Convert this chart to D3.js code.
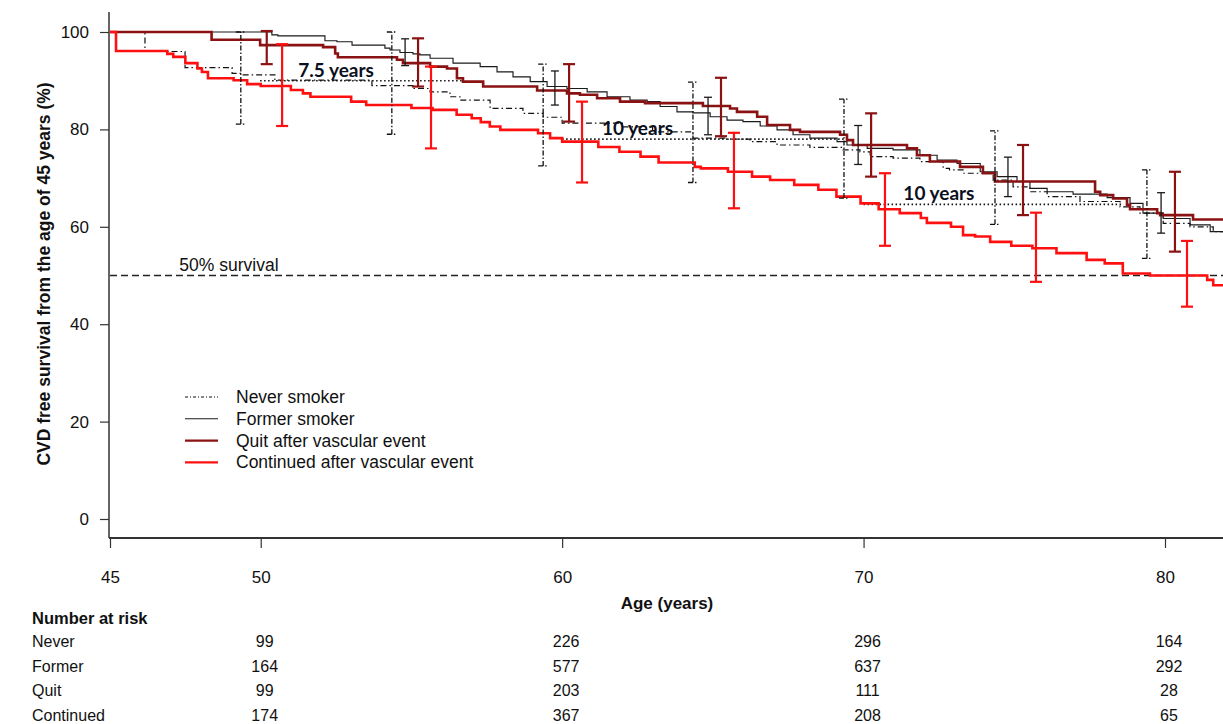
<!DOCTYPE html>
<html>
<head>
<meta charset="utf-8">
<script src="https://cdn.jsdelivr.net/npm/d3@7"></script>
<style>
  body { margin: 0; background: #fff; }
  text { font-family: "Liberation Sans", Arial, sans-serif; fill: #111; }
</style>
</head>
<body>
<div id="chart"></div>
<script>
// ---- data (age in years, CVD free survival in %) ----
var neverAge  = [45, 46.16, 47.49, 49.05, 49.38, 50.47, 53.69, 55.05, 55.62, 56.28, 56.61, 57.61, 58.7, 59.37, 60.0, 62.0, 63.0, 64.34, 65.47, 66.23, 67.13, 68.22, 69.32, 69.88, 70.22, 70.98, 71.87, 72.64, 72.85, 73.3, 74.3, 74.96, 75.52, 76.09, 77.18, 78.51, 79.17, 79.94, 80.83, 81.6, 82];
var neverSurv = [100, 96.0, 92.7, 91.5, 91.2, 90.1, 89.0, 88.4, 87.7, 86.7, 86.0, 84.3, 83.3, 82.5, 81.3, 80.5, 79.5, 78.2, 78.0, 77.5, 76.8, 76.3, 75.8, 75.4, 74.4, 74.1, 73.4, 72.0, 71.7, 71.0, 69.6, 68.2, 67.2, 66.2, 65.2, 64.1, 62.8, 60.7, 60.0, 59.0, 59.0];

var formerAge  = [45, 50.37, 50.57, 52.13, 52.53, 53.03, 54.12, 54.29, 54.62, 55.05, 55.28, 55.62, 56.38, 57.28, 57.84, 58.37, 58.94, 59.5, 60.16, 60.83, 61.49, 62.25, 62.82, 63.25, 63.81, 64.34, 64.91, 65.47, 66.0, 66.57, 67.13, 67.66, 68.22, 69.12, 69.45, 70.12, 70.98, 71.87, 72.44, 73.1, 73.87, 74.43, 75.09, 75.52, 76.09, 76.95, 78.08, 78.84, 79.27, 79.94, 80.83, 81.5, 82];
var formerSurv = [100, 99.4, 99.2, 98.2, 98.0, 97.3, 96.7, 96.3, 95.8, 95.5, 95.3, 94.6, 93.6, 92.9, 91.8, 90.8, 89.8, 88.8, 88.4, 87.7, 86.7, 86.0, 85.7, 84.7, 83.6, 83.4, 82.6, 81.9, 81.6, 80.7, 79.9, 78.9, 78.2, 77.5, 76.8, 76.1, 75.8, 74.7, 73.7, 73.0, 71.3, 70.3, 69.3, 67.9, 67.2, 66.7, 66.0, 64.8, 62.8, 61.7, 60.4, 59.0, 58.6];

var quitAge  = [45, 48.37, 49.98, 52.07, 52.47, 52.56, 54.52, 54.72, 55.62, 56.18, 56.51, 56.71, 57.38, 59.17, 60.16, 60.59, 61.16, 61.92, 62.75, 64.67, 65.57, 65.8, 66.47, 66.8, 67.56, 67.89, 69.22, 69.45, 69.65, 71.44, 71.77, 72.2, 73.2, 73.96, 74.36, 77.68, 77.85, 78.28, 78.74, 78.84, 79.74, 79.84, 80.93, 82];
var quitSurv = [100, 98.4, 97.3, 96.9, 95.6, 94.8, 94.3, 93.6, 92.9, 92.5, 90.5, 89.8, 88.8, 88.0, 87.4, 87.1, 86.4, 85.7, 85.4, 84.8, 84.3, 83.6, 82.6, 80.9, 79.9, 79.5, 78.9, 77.8, 76.8, 76.1, 74.7, 73.4, 72.3, 71.0, 69.3, 67.2, 66.5, 65.8, 64.5, 63.6, 62.8, 62.4, 61.5, 61.5];

var contAge  = [45, 45.2, 46.9, 47.1, 47.5, 47.9, 48.05, 48.25, 49.1, 49.55, 50.0, 51.0, 51.4, 51.65, 53.0, 53.5, 55.0, 55.7, 56.5, 57.0, 57.3, 57.6, 57.95, 59.2, 59.6, 60.0, 61.2, 61.9, 62.6, 63.2, 64.4, 64.6, 65.5, 66.3, 66.9, 67.7, 68.5, 69.1, 69.9, 70.5, 71.2, 71.9, 72.1, 72.9, 73.3, 73.7, 74.2, 74.9, 75.6, 76.4, 77.4, 78.0, 78.6, 79.5, 81.4, 81.6, 82];
var contSurv = [100, 96.1, 95.5, 94.9, 93.6, 92.5, 91.8, 90.5, 90.1, 89.3, 88.9, 88.1, 87.4, 86.7, 85.7, 85.0, 84.4, 84.0, 83.0, 82.3, 81.5, 80.6, 79.9, 79.2, 78.2, 77.5, 76.4, 75.4, 74.4, 73.2, 72.3, 72.0, 71.3, 70.3, 69.6, 68.6, 67.6, 66.2, 64.8, 63.6, 62.8, 61.8, 60.8, 60.0, 58.3, 58.0, 56.9, 56.1, 55.6, 54.6, 53.2, 52.5, 50.4, 50.0, 49.1, 48.0, 47.7];

// confidence intervals: age, lower, upper
var neverCiAge = [49.34, 54.35, 59.37, 64.34, 69.35, 74.36, 79.4];
var neverCiLo  = [81.1, 79.0, 72.5, 69.1, 65.9, 60.5, 53.5];
var neverCiHi  = [100, 100, 93.4, 89.7, 86.2, 79.7, 71.7];
var formerCiAge = [54.79, 59.76, 64.84, 69.82, 74.79, 79.87];
var formerCiLo  = [93.1, 85.0, 78.9, 72.8, 66.2, 58.7];
var formerCiHi  = [98.6, 92.0, 86.6, 80.8, 74.3, 67.0];
var quitCiAge = [50.2, 55.22, 60.23, 65.27, 70.25, 75.29, 80.33];
var quitCiLo  = [93.4, 88.8, 81.6, 78.6, 70.3, 62.4, 54.9];
var quitCiHi  = [100.2, 98.7, 93.4, 90.6, 83.3, 76.8, 71.3];
var contCiAge = [50.71, 55.65, 60.66, 65.7, 70.71, 75.72, 80.73];
var contCiLo  = [80.7, 76.1, 69.1, 63.8, 56.1, 48.7, 43.6];
var contCiHi  = [97.5, 92.9, 85.7, 79.3, 71.0, 62.9, 57.1];

// time-gap annotations
var annoLabels = ["7.5 years", "10 years", "10 years"];
var annoSurv   = [90.0, 78.0, 64.6];
var annoFrom   = [49.98, 60.0, 70.0];
var annoTo     = [56.7, 69.5, 78.6];
var annoTextAge = [52.5, 62.5, 72.5];

var xTicks = [45, 50, 60, 70, 80];
var yTicks = [0, 20, 40, 60, 80, 100];

var legendLabels = ["Never smoker", "Former smoker", "Quit after vascular event", "Continued after vascular event"];
var riskGroups = ["Never", "Former", "Quit", "Continued"];
var riskAges = [50, 60, 70, 80];
var riskNever  = [99, 226, 296, 164];
var riskFormer = [164, 577, 637, 292];
var riskQuit   = [99, 203, 111, 28];
var riskCont   = [174, 367, 208, 65];

// ---- drawing ----
var W = 1223, H = 724;
var svg = d3.select("#chart").append("svg")
    .attr("width", W).attr("height", H)
    .attr("viewBox", "0 0 " + W + " " + H);

var x = d3.scaleLinear().domain([45, 80]).range([110, 1165]);
var y = d3.scaleLinear().domain([0, 100]).range([519, 32]);

var styles = [
  {color: "#111", width: 1.2, dash: "6,3,1.5,3", cap: 10},
  {color: "#1a1a1a", width: 1.15, dash: null, cap: 8},
  {color: "#8b1212", width: 2.6, dash: null, cap: 12},
  {color: "#ff1010", width: 2.6, dash: null, cap: 12}
];

svg.append("defs").append("clipPath").attr("id", "plotclip")
  .append("rect").attr("x", x(45)).attr("y", 0).attr("width", W - x(45)).attr("height", 538);

var plot = svg.append("g").attr("clip-path", "url(#plotclip)");

// 50% survival line
plot.append("line")
  .attr("x1", x(45)).attr("x2", W)
  .attr("y1", y(50)).attr("y2", y(50))
  .attr("stroke", "#222").attr("stroke-width", 1.4)
  .attr("stroke-dasharray", "7,4");
svg.append("text").attr("x", x(47.3)).attr("y", y(50) - 5)
  .style("font-size", "17.5px").text("50% survival");

// annotation dotted lines
annoLabels.forEach(function (lab, i) {
  plot.append("line")
    .attr("x1", x(annoFrom[i])).attr("x2", x(annoTo[i]))
    .attr("y1", y(annoSurv[i])).attr("y2", y(annoSurv[i]))
    .attr("stroke", "#111").attr("stroke-width", 1.6)
    .attr("stroke-dasharray", "1.5,2.5");
});

var line = d3.line()
    .x(function (d) { return x(d[0]); })
    .y(function (d) { return y(d[1]); })
    .curve(d3.curveStepAfter);

var series = [
  d3.zip(neverAge, neverSurv),
  d3.zip(formerAge, formerSurv),
  d3.zip(quitAge, quitSurv),
  d3.zip(contAge, contSurv)
];
var cis = [
  [neverCiAge, neverCiLo, neverCiHi],
  [formerCiAge, formerCiLo, formerCiHi],
  [quitCiAge, quitCiLo, quitCiHi],
  [contCiAge, contCiLo, contCiHi]
];

series.forEach(function (s, i) {
  var st = styles[i];
  plot.append("path").datum(s)
    .attr("d", line)
    .attr("fill", "none")
    .attr("stroke", st.color)
    .attr("stroke-width", st.width)
    .attr("stroke-dasharray", st.dash);
});

cis.forEach(function (c, i) {
  var st = styles[i];
  var g = plot.append("g")
      .attr("stroke", st.color)
      .attr("stroke-width", i >= 2 ? 2.2 : 1.3)
      .attr("stroke-dasharray", st.dash ? "5,2,1.5,2" : null);
  var rows = d3.zip(c[0], c[1], c[2]);
  g.selectAll(".v").data(rows).enter().append("line")
    .attr("x1", function (d) { return x(d[0]); })
    .attr("x2", function (d) { return x(d[0]); })
    .attr("y1", function (d) { return y(d[1]); })
    .attr("y2", function (d) { return y(d[2]); });
  [1, 2].forEach(function (k) {
    g.selectAll(".c" + k).data(rows).enter().append("line")
      .attr("x1", function (d) { return x(d[0]) - st.cap / 2; })
      .attr("x2", function (d) { return x(d[0]) + st.cap / 2; })
      .attr("y1", function (d) { return y(d[k]); })
      .attr("y2", function (d) { return y(d[k]); });
  });
});

// annotation labels
annoLabels.forEach(function (lab, i) {
  svg.append("text")
    .attr("x", x(annoTextAge[i])).attr("y", y(annoSurv[i]) - 4)
    .attr("text-anchor", "middle")
    .style("font-family", "Lato, 'Open Sans', sans-serif")
    .style("font-weight", "bold").style("font-size", "19px")
    .style("fill", "#0b1020")
    .text(lab);
});

// axes
var yAxis = svg.append("g").attr("transform", "translate(" + 109 + ",0)")
  .call(d3.axisLeft(y).tickValues(yTicks).tickSize(9).tickPadding(11));
yAxis.select(".domain").remove();
yAxis.selectAll("line").attr("stroke", "#333").attr("stroke-width", 1.2);
yAxis.selectAll("text").style("font-size", "17px").attr("fill", "#111");
svg.append("line").attr("x1", 109).attr("x2", 109)
  .attr("y1", 12).attr("y2", 538)
  .attr("stroke", "#333").attr("stroke-width", 1.5);

var xAxis = svg.append("g").attr("transform", "translate(0," + 538 + ")")
  .call(d3.axisBottom(x).tickValues(xTicks).tickSize(10).tickPadding(23));
xAxis.select(".domain").remove();
xAxis.selectAll("line").attr("stroke", "#333").attr("stroke-width", 1.2);
xAxis.selectAll("text").style("font-size", "17px").attr("fill", "#111");
svg.append("line").attr("x1", 109).attr("x2", W)
  .attr("y1", 538).attr("y2", 538)
  .attr("stroke", "#333").attr("stroke-width", 2);

svg.append("text")
  .attr("transform", "translate(50," + 274 + ") rotate(-90)")
  .attr("text-anchor", "middle")
  .style("font-weight", "bold").style("font-size", "17.5px")
  .text("CVD free survival from the age of 45 years (%)");

svg.append("text").attr("x", 667).attr("y", 609)
  .attr("text-anchor", "middle")
  .style("font-weight", "bold").style("font-size", "17px")
  .text("Age (years)");

// legend
var leg = svg.append("g");
legendLabels.forEach(function (lab, i) {
  var st = styles[i];
  var ly = 397 + i * 21.8;
  leg.append("line").attr("x1", 185).attr("x2", 218)
    .attr("y1", ly).attr("y2", ly)
    .attr("stroke", st.color).attr("stroke-width", i >= 2 ? 2.4 : 1.1)
    .attr("stroke-dasharray", st.dash ? "3,2,1,2" : null);
  leg.append("text").attr("x", 236).attr("y", ly + 6)
    .style("font-size", "17.5px").text(lab);
});

// number at risk table
svg.append("text").attr("x", 32).attr("y", 624)
  .style("font-weight", "bold").style("font-size", "16.5px")
  .text("Number at risk");
var riskRows = [riskNever, riskFormer, riskQuit, riskCont];
riskGroups.forEach(function (grp, i) {
  var ry = 647 + i * 24.5;
  svg.append("text").attr("x", 32).attr("y", ry)
    .style("font-size", "16px").text(grp);
  svg.selectAll(null).data(riskRows[i]).enter().append("text")
    .attr("x", function (d, j) { return x(riskAges[j]) + 4; })
    .attr("y", ry)
    .attr("text-anchor", "middle")
    .style("font-size", "16px")
    .text(function (d) { return d; });
});
</script>
</body>
</html>
